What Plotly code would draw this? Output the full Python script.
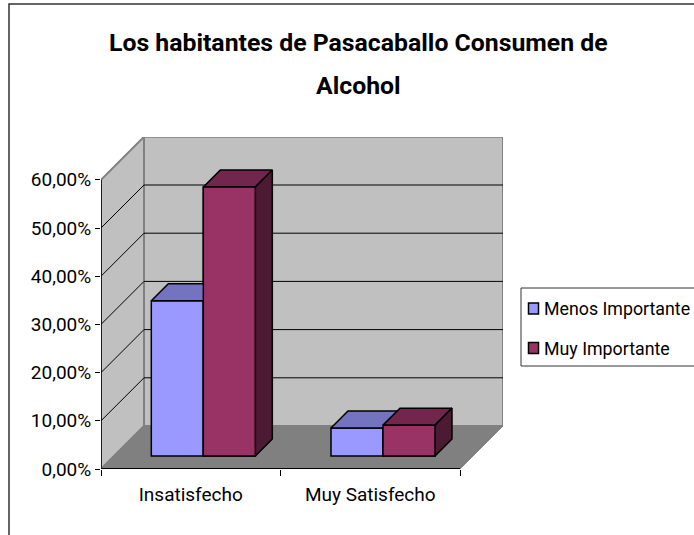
import plotly.graph_objects as go

categories = ["Insatisfecho", "Muy Satisfecho"]
menos_importante = [32.2, 5.8]
muy_importante = [55.8, 6.4]
y_ticks = [0, 10, 20, 30, 40, 50, 60]
y_tick_labels = ["0,00%", "10,00%", "20,00%", "30,00%", "40,00%", "50,00%", "60,00%"]
group_centers = [0.57, 1.571]

FONT = "Roboto, Liberation Sans, Arial, sans-serif"
L, T, R, B = 101, 137, 503, 469      # plot box in px
CAT_PX = 179.5
PCT_PX = 4.82
WALL_DX = 43 / CAT_PX
WALL_DY = 43 / PCT_PX
BAR_W = 52 / CAT_PX
BAR_DX = 17 / CAT_PX
BAR_DY = 17 / PCT_PX
BAR_BASE = 13 / PCT_PX


def px(x):
    return (x - L) / (R - L)


def py(y):
    return (B - y) / (B - T)


fig = go.Figure()


def poly(xs, ys, color):
    fig.add_trace(go.Scatter(
        x=xs + xs[:1], y=ys + ys[:1], mode="lines", fill="toself", fillcolor=color,
        line=dict(color="black", width=1.5), showlegend=False, hoverinfo="skip"))


def series(name, values, offset, front):
    fig.add_trace(go.Bar(
        name=name, x=group_centers, y=values, base=[BAR_BASE] * len(values),
        width=BAR_W, offset=offset, marker=dict(color=front, line=dict(color="black", width=1.5)),
        showlegend=False))


def faces(values, offset, front, top, side, draw_side=True, draw_front=False):
    for c, v in zip(group_centers, values):
        x0 = c + offset
        x1 = x0 + BAR_W
        y0 = BAR_BASE
        y1 = BAR_BASE + v
        poly([x0, x1, x1 + BAR_DX, x0 + BAR_DX], [y1, y1, y1 + BAR_DY, y1 + BAR_DY], top)
        if draw_side:
            poly([x1, x1 + BAR_DX, x1 + BAR_DX, x1], [y0, y0 + BAR_DY, y1 + BAR_DY, y1], side)
        if draw_front:
            poly([x0, x1, x1, x0], [y0, y0, y1, y1], front)


series("Menos Importante", menos_importante, -BAR_W, "#9999FF")
series("Muy Importante", muy_importante, 0, "#993366")
faces(menos_importante, -BAR_W, "#9999FF", "#7373BF", "#4D4D80", draw_side=False)
faces(muy_importante, 0, "#993366", "#73264D", "#4D1A33", draw_front=True)

shapes = []
top_val = y_ticks[-1]
# outer frame
shapes.append(dict(type="rect", xref="paper", yref="paper", layer="below",
                   x0=px(9), x1=px(720), y0=py(560), y1=py(4), fillcolor="white",
                   line=dict(color="#333333", width=1.5)))
# walls and floor
shapes.append(dict(type="path", layer="below", fillcolor="#C0C0C0",
                   line=dict(color="#808080", width=2),
                   path=f"M {WALL_DX} {WALL_DY} L {2 + WALL_DX} {WALL_DY} L {2 + WALL_DX} {top_val + WALL_DY} L {WALL_DX} {top_val + WALL_DY} Z"))
shapes.append(dict(type="path", layer="below", fillcolor="#C0C0C0",
                   line=dict(color="#808080", width=2),
                   path=f"M 0 0 L {WALL_DX} {WALL_DY} L {WALL_DX} {top_val + WALL_DY} L 0 {top_val} Z"))
shapes.append(dict(type="path", layer="below", fillcolor="#808080",
                   line=dict(color="#808080", width=1),
                   path=f"M 0 0 L 2 0 L {2 + WALL_DX} {WALL_DY} L {WALL_DX} {WALL_DY} Z"))
# gridlines
for v in y_ticks[1:-1]:
    shapes.append(dict(type="line", layer="below", x0=0, y0=v, x1=WALL_DX, y1=v + WALL_DY,
                       line=dict(color="black", width=1)))
    shapes.append(dict(type="line", layer="below", x0=WALL_DX, y0=v + WALL_DY, x1=2 + WALL_DX, y1=v + WALL_DY,
                       line=dict(color="black", width=1)))
# axis lines
shapes.append(dict(type="line", x0=0, y0=0, x1=0, y1=top_val, line=dict(color="black", width=1.5)))
shapes.append(dict(type="line", x0=0, y0=0, x1=2, y1=0, line=dict(color="black", width=2)))
# legend
shapes.append(dict(type="rect", xref="paper", yref="paper",
                   x0=px(521), x1=px(720), y0=py(366), y1=py(288), fillcolor="white",
                   line=dict(color="#333333", width=1)))
legend_y = [308.5, 348]
legend_colors = ["#9999FF", "#993366"]
for ly, col in zip(legend_y, legend_colors):
    shapes.append(dict(type="rect", xref="paper", yref="paper",
                       x0=px(528.5), x1=px(538.5), y0=py(ly + 5.5), y1=py(ly - 5.5), fillcolor=col,
                       line=dict(color="black", width=1.5)))

annotations = [
    dict(text="Los habitantes de Pasacaballo Consumen de", x=px(358), y=py(42), xref="paper", yref="paper",
         showarrow=False, xanchor="center", yanchor="middle",
         font=dict(family=FONT, size=24.8, color="black", weight="bold")),
    dict(text="Alcohol", x=px(358), y=py(85), xref="paper", yref="paper",
         showarrow=False, xanchor="center", yanchor="middle",
         font=dict(family=FONT, size=24.8, color="black", weight="bold")),
]
for ly, name in zip(legend_y, ["Menos Importante", "Muy Importante"]):
    annotations.append(dict(text=name, x=px(542), y=py(ly), xref="paper", yref="paper",
                            showarrow=False, xanchor="left", yanchor="middle",
                            font=dict(family=FONT, size=17.8, color="black")))

fig.update_layout(
    width=694, height=535, autosize=False,
    margin=dict(l=L, r=694 - R, t=T, b=535 - B, pad=0),
    paper_bgcolor="white", plot_bgcolor="rgba(0,0,0,0)",
    barmode="overlay", showlegend=False,
    shapes=shapes, annotations=annotations,
    font=dict(family=FONT, size=19, color="black"),
    xaxis=dict(range=[0, (R - L) / CAT_PX], tickmode="array", tickvals=[0.5, 1.5], ticktext=categories,
               showgrid=False, zeroline=False, showline=False, ticks="", ticklabelstandoff=12,
               minor=dict(tick0=0, dtick=1, ticks="outside", ticklen=6, tickcolor="black", tickwidth=1, showgrid=False)),
    yaxis=dict(range=[0, (B - T) / PCT_PX], tickmode="array", tickvals=y_ticks, ticktext=y_tick_labels,
               showgrid=False, zeroline=False, showline=False, ticks="outside", ticklen=5, tickcolor="black", tickwidth=1),
)

fig.write_html("out.html", config=dict(displayModeBar=False),
               post_script="document.body.style.margin='0';document.body.style.overflow='hidden';")
